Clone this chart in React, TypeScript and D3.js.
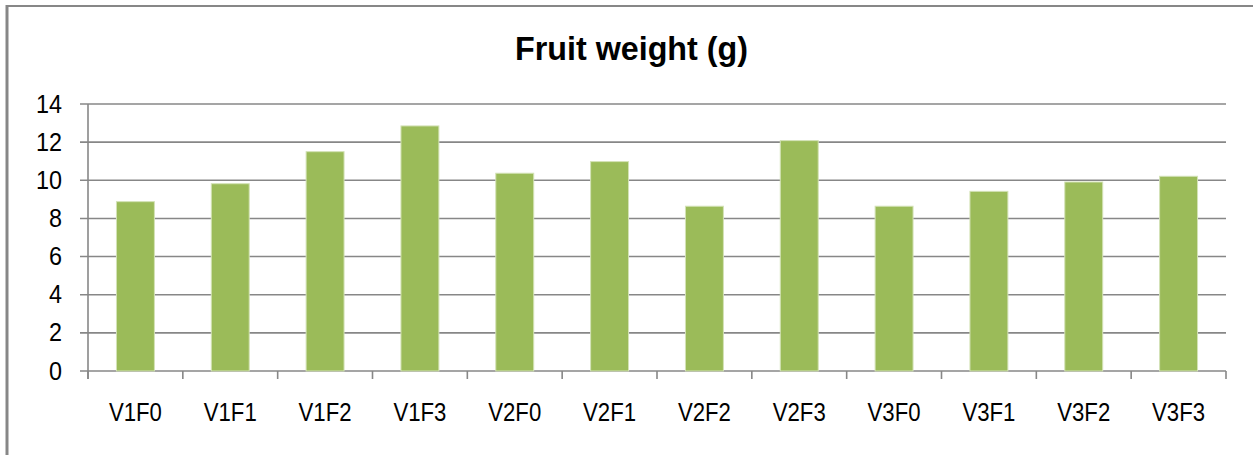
import * as d3 from "d3";

const categories = [
  "V1F0", "V1F1", "V1F2", "V1F3",
  "V2F0", "V2F1", "V2F2", "V2F3",
  "V3F0", "V3F1", "V3F2", "V3F3"
];
const fruitWeight = [8.88, 9.82, 11.5, 12.85, 10.37, 10.98, 8.64, 12.08, 8.64, 9.42, 9.91, 10.21];
const yTicks = [0, 2, 4, 6, 8, 10, 12, 14];

const W = 1253;
const H = 455;
const left = 88;
const right = 1226;
const top = 104;
const bottom = 371;
const grid = "#878787";
const font = "'Liberation Sans', Arial, sans-serif";

export default function App() {
  const x = d3.scaleBand().domain(categories).range([left, right]).paddingInner(0.6).paddingOuter(0.3);
  const bounds = d3.scaleLinear().domain([0, categories.length]).range([left, right]);
  const y = d3.scaleLinear().domain([0, 14]).range([bottom, top]);

  return (
    <svg width={W} height={H} style={{ position: "absolute", left: 0, top: 0 }}>
      <rect x={0} y={0} width={W} height={H} fill="#fff" />
      {/* chart frame */}
      <line x1={7} x2={W} y1={6} y2={6} stroke={grid} strokeWidth={2} />
      <line x1={7} x2={7} y1={5} y2={H} stroke={grid} strokeWidth={3} />

      <text x={631.5} y={60} textAnchor="middle" fontFamily={font} fontWeight="bold" fontSize={33}
        textLength={233} lengthAdjust="spacingAndGlyphs">
        Fruit weight (g)
      </text>

      {yTicks.map(t => (
        <g key={t}>
          <line x1={left - 8} x2={right} y1={y(t)} y2={y(t)} stroke={grid} strokeWidth={1.6} />
          <text x={62} y={y(t) + 8.5} textAnchor="end" fontFamily={font} fontSize={25}
            textLength={13 * String(t).length} lengthAdjust="spacingAndGlyphs">
            {t}
          </text>
        </g>
      ))}

      <line x1={left} x2={left} y1={top} y2={bottom + 8} stroke={grid} strokeWidth={1.6} />
      {d3.range(categories.length + 1).map(i => (
        <line key={i} x1={bounds(i)} x2={bounds(i)} y1={bottom} y2={bottom + 8} stroke={grid} strokeWidth={1.6} />
      ))}

      {categories.map((c, i) => (
        <rect
          key={c}
          x={x(c)}
          y={y(fruitWeight[i])}
          width={x.bandwidth()}
          height={y(0) - y(fruitWeight[i])}
          fill="#9bbb59"
          stroke="#d3e2b6"
          strokeWidth={1}
        />
      ))}

      {categories.map(c => (
        <text key={c} x={x(c)! + x.bandwidth() / 2} y={421} textAnchor="middle" fontFamily={font} fontSize={26}
          textLength={53} lengthAdjust="spacingAndGlyphs">
          {c}
        </text>
      ))}
    </svg>
  );
}
